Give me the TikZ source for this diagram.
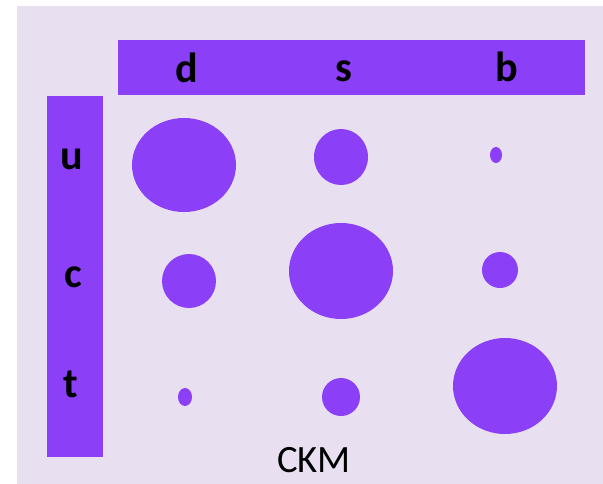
\documentclass[tikz,border=0pt]{standalone}
\usepackage{fontspec}
\setmainfont{Carlito}
\usepackage{tikz}
\definecolor{ckmpurple}{RGB}{139,63,246}
\definecolor{ckmback}{RGB}{232,224,241}
\tikzset{flav/.style={text=black, font=\fontsize{24}{28}\selectfont\bfseries, inner sep=0pt, anchor=base}}
\tikzset{bar/.style={fill=ckmpurple}}

\begin{document}
\begin{tikzpicture}[x=0.02cm, y=-0.02cm]
                \useasboundingbox (0,0) rectangle (603,484);
                \fill[ckmback] (17,6) rectangle (603,484);
                \fill[bar] (118,40) rectangle (585,95);
                \fill[bar] (47,96) rectangle (103,457);

                \node[flav] (d) at (187,82) {d};
                \node[flav] (s) at (344,81) {s};
                \node[flav] (b) at (507,81) {b};
                \node[flav] (u) at (72,169) {u};
                \node[flav] (c) at (73,287) {c};
                \node[flav] (t) at (71,397) {t};

                % row u
                \fill[ckmpurple] (184,165) ellipse [x radius=52, y radius=47];
                \fill[ckmpurple] (341,157) ellipse [x radius=27, y radius=28];
                \fill[ckmpurple] (496,155) ellipse [x radius=6, y radius=8];
                % row c
                \fill[ckmpurple] (189,281) ellipse [x radius=27, y radius=27];
                \fill[ckmpurple] (341,271) ellipse [x radius=52, y radius=48];
                \fill[ckmpurple] (500,270) ellipse [x radius=18, y radius=18];
                % row t
                \fill[ckmpurple] (185,397) ellipse [x radius=7, y radius=9];
                \fill[ckmpurple] (341,397) ellipse [x radius=19, y radius=19];
                \fill[ckmpurple] (505,386) ellipse [x radius=52, y radius=48];

                \node[text=black, font=\fontsize{22}{26}\selectfont, inner sep=0pt, anchor=base] (ckm) at (314,472) {CKM};
            \end{tikzpicture}
\end{document}
